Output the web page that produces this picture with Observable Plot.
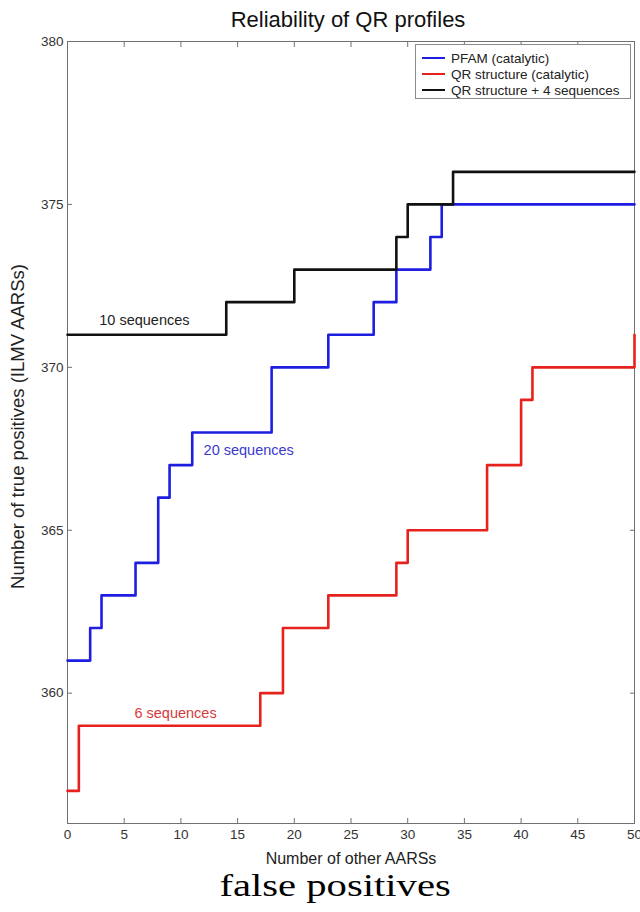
<!DOCTYPE html>
<html><head><meta charset="utf-8">
<script src="https://cdn.jsdelivr.net/npm/d3@7"></script>
<script src="https://cdn.jsdelivr.net/npm/@observablehq/plot@0.6"></script>
<style>
body{margin:0;background:#fff;font-family:"Liberation Sans",Arial,sans-serif;}
#wrap{position:relative;width:640px;height:912px;overflow:hidden;background:#fff}
#legend{position:absolute;left:415px;top:44px;width:216px;height:55px;border:1px solid #8a8a8a;background:#fff;box-sizing:border-box;padding-top:5px}
.row{height:16px;display:flex;align-items:center;font-size:13.5px;color:#222;white-space:nowrap}
.sw{width:23px;height:2.5px;margin-left:6px;margin-right:6px;flex:none}
#caption{position:absolute;left:0;width:670px;top:869px;text-align:center;font-family:"Liberation Serif","Times New Roman",serif;font-size:32px;line-height:32px;color:#000}
#caption span{display:inline-block;transform:scaleX(1.27)}
</style></head>
<body>
<div id="wrap"><div id="chart"></div><div id="legend"></div><div id="caption"><span>false positives</span></div></div>
<script>
// Series (step-after change points)
const pfamX = [0, 2, 3, 6, 8, 9, 11, 18, 23, 27, 29, 32, 33, 50];
const pfamY = [361, 362, 363, 364, 366, 367, 368, 370, 371, 372, 373, 374, 375, 375];
const qrX = [0, 1, 17, 19, 23, 29, 30, 37, 40, 41, 50];
const qrY = [357, 359, 360, 362, 363, 364, 365, 367, 369, 370, 371];
const qr4X = [0, 14, 20, 29, 30, 34, 50];
const qr4Y = [371, 372, 373, 374, 375, 376, 376];

const seriesNames = ["PFAM (catalytic)", "QR structure (catalytic)", "QR structure + 4 sequences"];
const seriesColors = ["#1e1ee0", "#e6221e", "#111111"];

const xTicks = [0, 5, 10, 15, 20, 25, 30, 35, 40, 45, 50];
const yTicks = [360, 365, 370, 375, 380];

const annText = ["10 sequences", "20 sequences", "6 sequences"];
const annX = [2.8, 12.0, 5.9];
const annY = [371.44, 367.45, 359.39];
const annColor = ["#222222", "#3a3ad0", "#d63a3a"];

const title = "Reliability of QR profiles";
const xLabel = "Number of other AARSs";
const yLabel = "Number of true positives (ILMV AARSs)";

const seriesX = [pfamX, qrX, qr4X];
const seriesY = [pfamY, qrY, qr4Y];
const rows = [];
seriesNames.forEach((name, i) => {
  seriesX[i].forEach((x, j) => rows.push({series: name, x, y: seriesY[i][j], color: seriesColors[i]}));
});
const ann = annText.map((t, i) => ({t, x: annX[i], y: annY[i], c: annColor[i]}));

const chart = Plot.plot({
  width: 640,
  height: 872,
  marginTop: 41,
  marginBottom: 49,
  marginLeft: 67,
  marginRight: 6,
  style: {fontFamily: "'Liberation Sans', Arial, sans-serif", fontSize: "13.5px", color: "#333", background: "#fff", overflow: "visible"},
  x: {domain: [0, 50]},
  y: {domain: [356, 380]},
  marks: [
    Plot.frame({stroke: "#707070"}),
    Plot.axisX({ticks: xTicks, anchor: "bottom", tickSize: -5, tickPadding: 11, label: null, stroke: "#707070", fill: "#333"}),
    Plot.axisX({ticks: xTicks, anchor: "top", tickSize: -5, tickFormat: () => "", label: null, stroke: "#707070"}),
    Plot.axisY({ticks: yTicks, anchor: "left", tickSize: -5, tickPadding: 9, label: null, stroke: "#707070", fill: "#333"}),
    Plot.axisY({ticks: yTicks, anchor: "right", tickSize: -5, tickFormat: () => "", label: null, stroke: "#707070"}),
    Plot.line(rows, {x: "x", y: "y", z: "series", stroke: "color", strokeWidth: 2.6, curve: "step-after"}),
    Plot.text(ann, {x: "x", y: "y", text: "t", fill: "c", textAnchor: "start", fontSize: 14.5}),
    Plot.text([title], {frameAnchor: "top", textAnchor: "middle", lineAnchor: "middle", dy: -22, dx: -3, fontSize: 22, fill: "#111"}),
    Plot.text([xLabel], {frameAnchor: "bottom", textAnchor: "middle", lineAnchor: "middle", dy: 35, fontSize: 16, fill: "#222"}),
    Plot.text([yLabel], {frameAnchor: "left", textAnchor: "middle", lineAnchor: "middle", dx: -49, dy: -6, rotate: -90, fontSize: 18.5, fill: "#222"})
  ]
});
document.getElementById("chart").appendChild(chart);

const legend = document.getElementById("legend");
seriesNames.forEach((name, i) => {
  const row = document.createElement("div");
  row.className = "row";
  const sw = document.createElement("div");
  sw.className = "sw";
  sw.style.background = seriesColors[i];
  const tx = document.createElement("span");
  tx.textContent = name;
  row.appendChild(sw);
  row.appendChild(tx);
  legend.appendChild(row);
});
</script>
</body></html>
